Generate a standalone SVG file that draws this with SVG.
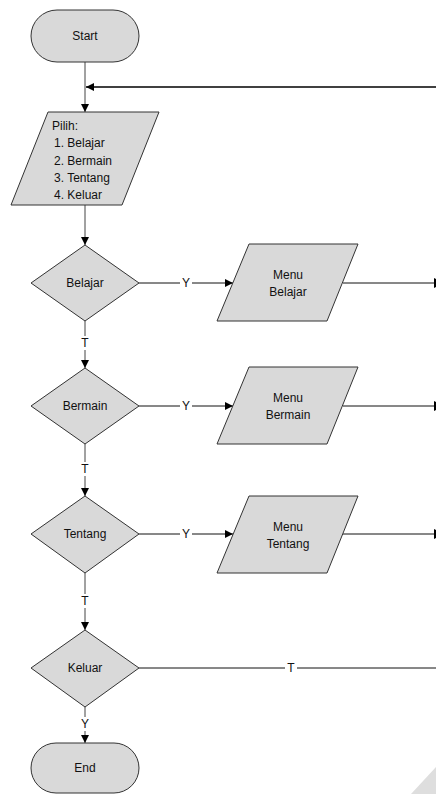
<svg xmlns="http://www.w3.org/2000/svg" width="436" height="794" viewBox="0 0 436 794">
<defs>
<style>
.shape{fill:#d9d9d9;stroke:#333;stroke-width:1}
.t{font-family:"Liberation Sans",Arial,sans-serif;font-size:12px;fill:#111}
.c{text-anchor:middle}
.ln{fill:none;stroke:#444;stroke-width:1}
.lb{fill:none;stroke:#111;stroke-width:1}
.lbl{font-family:"Liberation Sans",Arial,sans-serif;font-size:12px;fill:#111;text-anchor:middle}
.bg{fill:#fff}
</style>
<marker id="ah" viewBox="0 0 10 10" refX="10" refY="5" markerWidth="8" markerHeight="9" markerUnits="userSpaceOnUse" orient="auto">
<path d="M0,0 L10,5 L0,10 Z" fill="#000"/>
</marker>
</defs>
<rect width="436" height="794" fill="#fff"/>
<polygon points="411,794 436,767 436,794" fill="#dedede"/>

<g id="connectors">
<line class="ln" x1="85" y1="62" x2="85" y2="112" marker-end="url(#ah)"/>
<line x1="436" y1="87" x2="86" y2="87" stroke="#000" stroke-width="1.5" marker-end="url(#ah)"/>
<line class="ln" x1="85" y1="205" x2="85" y2="245" marker-end="url(#ah)"/>
<!-- Belajar -->
<line class="lb" x1="139" y1="283" x2="233" y2="283" marker-end="url(#ah)"/>
<rect class="bg" x="180" y="276" width="12" height="14"/>
<text class="lbl" x="186" y="287">Y</text>
<line class="lb" x1="343" y1="283" x2="435" y2="283"/>
<polygon points="434,278 444,283 434,288" fill="#000"/>
<line class="ln" x1="85" y1="321" x2="85" y2="368" marker-end="url(#ah)"/>
<rect class="bg" x="79" y="336" width="12" height="14"/>
<text class="lbl" x="85" y="347">T</text>
<!-- Bermain -->
<line class="lb" x1="139" y1="406" x2="233" y2="406" marker-end="url(#ah)"/>
<rect class="bg" x="180" y="399" width="12" height="14"/>
<text class="lbl" x="186" y="410">Y</text>
<line class="lb" x1="343" y1="406" x2="435" y2="406"/>
<polygon points="434,401 444,406 434,411" fill="#000"/>
<line class="ln" x1="85" y1="444" x2="85" y2="496" marker-end="url(#ah)"/>
<rect class="bg" x="79" y="462" width="12" height="14"/>
<text class="lbl" x="85" y="473">T</text>
<!-- Tentang -->
<line class="lb" x1="139" y1="534" x2="233" y2="534" marker-end="url(#ah)"/>
<rect class="bg" x="180" y="527" width="12" height="14"/>
<text class="lbl" x="186" y="538">Y</text>
<line class="lb" x1="343" y1="534" x2="435" y2="534"/>
<polygon points="434,529 444,534 434,539" fill="#000"/>
<line class="ln" x1="85" y1="573" x2="85" y2="630" marker-end="url(#ah)"/>
<rect class="bg" x="79" y="594" width="12" height="14"/>
<text class="lbl" x="85" y="605">T</text>
<!-- Keluar -->
<line class="lb" x1="139" y1="668" x2="436" y2="668"/>
<rect class="bg" x="285" y="661" width="12" height="14"/>
<text class="lbl" x="291" y="672">T</text>
<line class="ln" x1="85" y1="707" x2="85" y2="743" marker-end="url(#ah)"/>
<rect class="bg" x="79" y="717" width="12" height="14"/>
<text class="lbl" x="85" y="728">Y</text>
</g>

<g id="start">
<rect class="shape" x="31" y="10" width="108" height="52" rx="26" ry="26"/>
<text class="t c" x="85" y="40">Start</text>
</g>

<g id="pilih">
<polygon class="shape" points="48,112 159,112 122,205 11,205"/>
<text class="t" x="52" y="130">Pilih:</text>
<text class="t" x="54" y="147.25">1. Belajar</text>
<text class="t" x="54" y="164.5">2. Bermain</text>
<text class="t" x="54" y="181.75">3. Tentang</text>
<text class="t" x="54" y="199">4. Keluar</text>
</g>

<g id="dec-belajar">
<polygon class="shape" points="85,245 139,283 85,321 31,283"/>
<text class="t c" x="85" y="287">Belajar</text>
</g>
<g id="menu-belajar">
<polygon class="shape" points="249,244 358,244 327,321 217,321"/>
<text class="t c" x="288" y="279">Menu</text>
<text class="t c" x="288" y="296">Belajar</text>
</g>

<g id="dec-bermain">
<polygon class="shape" points="85,368 139,406 85,444 31,406"/>
<text class="t c" x="85" y="410">Bermain</text>
</g>
<g id="menu-bermain">
<polygon class="shape" points="249,367 358,367 327,444 217,444"/>
<text class="t c" x="288" y="402">Menu</text>
<text class="t c" x="288" y="419">Bermain</text>
</g>

<g id="dec-tentang">
<polygon class="shape" points="85,496 139,534 85,573 31,534"/>
<text class="t c" x="85" y="538">Tentang</text>
</g>
<g id="menu-tentang">
<polygon class="shape" points="249,496 358,496 327,573 217,573"/>
<text class="t c" x="288" y="531">Menu</text>
<text class="t c" x="288" y="548">Tentang</text>
</g>

<g id="dec-keluar">
<polygon class="shape" points="85,630 139,668 85,707 31,668"/>
<text class="t c" x="85" y="672">Keluar</text>
</g>

<g id="end">
<rect class="shape" x="31" y="743" width="108" height="50" rx="25" ry="25"/>
<text class="t c" x="85" y="772">End</text>
</g>
</svg>
